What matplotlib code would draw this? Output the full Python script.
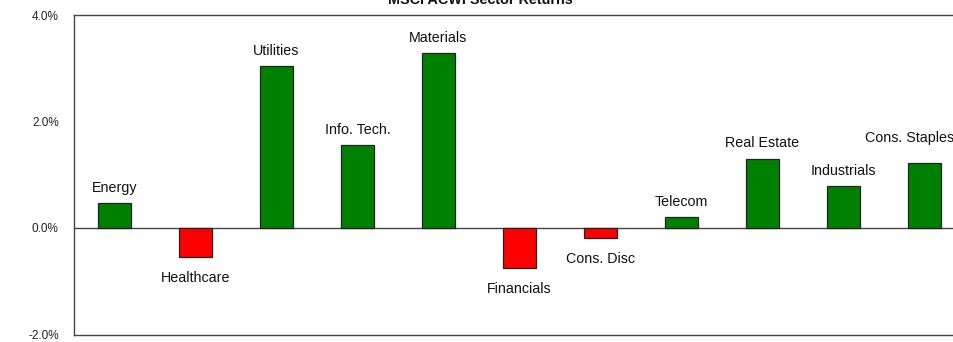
import numpy as np
import matplotlib.pyplot as plt

sectors = ["Energy", "Healthcare", "Utilities", "Info. Tech.", "Materials", "Financials",
           "Cons. Disc", "Telecom", "Real Estate", "Industrials", "Cons. Staples"]
returns = [0.47, -0.55, 3.04, 1.56, 3.29, -0.75, -0.19, 0.20, 1.30, 0.78, 1.22]
yticks = [-2.0, 0.0, 2.0, 4.0]

plt.rcParams["font.family"] = ["Liberation Sans", "DejaVu Sans"]

fig = plt.figure(figsize=(9.54, 3.42), dpi=100)
W, H = 954.0, 342.0
# axes is wider than the canvas: right part is cropped like in the reference
ax = fig.add_axes([74 / W, (H - 334.5) / H, 891 / W, (334.5 - 15) / H])

x = np.arange(len(sectors))
colors = ["#008000" if v >= 0 else "#ff0000" for v in returns]
ax.bar(x, returns, width=0.41, color=colors, edgecolor="#222222", linewidth=0.9, zorder=3)
ax.axhline(0, color="#444444", linewidth=1.0, zorder=2)

ax.set_xlim(-0.5, len(sectors) - 0.5)
ax.set_ylim(-2, 4)
ax.set_yticks(yticks)
ax.set_yticklabels([f"{t:.1f}%" for t in yticks], fontsize=8.5, color="#222222")
ax.tick_params(axis="y", length=0, pad=11)
ax.set_xticks([])
for s in ["left", "top", "bottom", "right"]:
    ax.spines[s].set_color("#444444")
    ax.spines[s].set_linewidth(1.0)

for i, (name, v) in enumerate(zip(sectors, returns)):
    dx, dy = (0, 11) if v >= 0 else (0, -15)
    if name == "Cons. Staples":
        dx, dy = -11, 18
    ax.annotate(name, (i, v), xytext=(dx, dy), textcoords="offset points",
                ha="center", va="center", fontsize=10.3, color="#111111")

fig.text(480 / W, 1 - 0 / H, "MSCI ACWI Sector Returns", ha="center", va="center",
         fontsize=10.4, fontweight="bold", color="#111111")

fig.savefig("out.png", dpi=100)
